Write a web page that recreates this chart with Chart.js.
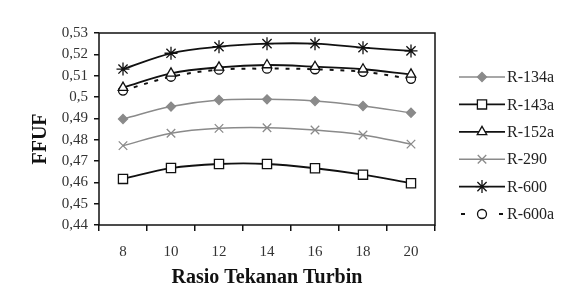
<!DOCTYPE html>
<html>
<head>
<meta charset="utf-8">
<script src="https://cdn.jsdelivr.net/npm/chart.js@4/dist/chart.umd.min.js"></script>
<style>
  html, body { margin: 0; padding: 0; background: #fff; }
  #wrap { width: 586px; height: 298px; }
</style>
</head>
<body>
<div id="wrap"><canvas id="ffuf-chart" width="586" height="298"></canvas></div>
<script>
// rasio tekanan turbin vs FFUF
const ratios = ['8', '10', '12', '14', '16', '18', '20'];

const r134a = [0.4897, 0.4955, 0.4986, 0.4989, 0.4981, 0.4958, 0.4926];
const r143a = [0.4616, 0.4667, 0.4686, 0.4686, 0.4666, 0.4636, 0.4596];
const r152a = [0.5044, 0.5111, 0.5139, 0.5150, 0.5142, 0.5130, 0.5106];
const r290  = [0.4772, 0.4830, 0.4853, 0.4856, 0.4845, 0.4822, 0.4779];
const r600  = [0.5131, 0.5205, 0.5236, 0.5250, 0.5250, 0.5231, 0.5216];
const r600a = [0.5030, 0.5095, 0.5128, 0.5133, 0.5130, 0.5118, 0.5085];

const yTicks = [0.44, 0.45, 0.46, 0.47, 0.48, 0.49, 0.5, 0.51, 0.52, 0.53];

const FONT = "'Liberation Serif', 'Times New Roman', serif";
const GRAY = '#8a8a8a';

const series = [
  { label: 'R-134a', data: r134a, color: GRAY, width: 1.5, style: 'rectRot', r: 4.5, fill: GRAY, dash: [] },
  { label: 'R-143a', data: r143a, color: '#111', width: 1.8, style: 'rect', r: 6.5, fill: '#fff', dash: [] },
  { label: 'R-152a', data: r152a, color: '#111', width: 1.8, style: 'triangle', r: 5.5, fill: '#fff', dash: [] },
  { label: 'R-290',  data: r290,  color: GRAY, width: 1.5, style: 'crossRot', r: 6, fill: GRAY, dash: [] },
  { label: 'R-600',  data: r600,  color: '#111', width: 1.8, style: 'star', r: 6.5, fill: '#111', dash: [] },
  { label: 'R-600a', data: r600a, color: '#111', width: 2, style: 'circle', r: 4.5, fill: '#fff', dash: [4, 7] },
];

// frame round the plot area
const frame = {
  id: 'frame',
  afterDatasetsDraw(chart) {
    const { ctx, chartArea: a } = chart;
    ctx.save();
    ctx.strokeStyle = '#111';
    ctx.lineWidth = 1.5;
    ctx.strokeRect(a.left, a.top, a.right - a.left, a.bottom - a.top);
    ctx.restore();
  }
};

// legend on the right: short line with the marker in the middle
const sideLegend = {
  id: 'sideLegend',
  afterDraw(chart) {
    const { ctx, chartArea: a } = chart;
    const x0 = a.right + 24, len = 46;
    ctx.save();
    series.forEach((s, i) => {
      const y = a.top + 44 + i * 27.4;
      ctx.strokeStyle = s.color;
      ctx.lineWidth = s.width;
      ctx.beginPath();
      if (s.dash.length) {
        ctx.moveTo(x0 + 2, y); ctx.lineTo(x0 + 6, y);
        ctx.moveTo(x0 + len - 6, y); ctx.lineTo(x0 + len - 2, y);
      } else {
        ctx.moveTo(x0, y); ctx.lineTo(x0 + len, y);
      }
      ctx.stroke();
      ctx.fillStyle = s.fill;
      ctx.lineWidth = 1.3;
      Chart.helpers.drawPoint(ctx, { pointStyle: s.style, radius: s.r, borderWidth: 1.3 }, x0 + len / 2, y);
      ctx.fillStyle = '#222';
      ctx.font = '16px ' + FONT;
      ctx.textBaseline = 'middle';
      ctx.fillText(s.label, x0 + len + 2, y + 1);
    });
    ctx.restore();
  }
};

new Chart(document.getElementById('ffuf-chart'), {
  type: 'line',
  data: {
    labels: ratios,
    datasets: series.map(s => ({
      label: s.label,
      data: s.data,
      borderColor: s.color,
      borderWidth: s.width,
      borderDash: s.dash,
      pointStyle: s.style,
      pointRadius: s.r,
      pointBackgroundColor: s.fill,
      pointBorderColor: s.color,
      pointBorderWidth: 1.3,
      tension: 0.35,
      fill: false,
    }))
  },
  options: {
    responsive: false,
    animation: false,
    devicePixelRatio: 1,
    layout: { padding: { top: 33, right: 151, bottom: 0, left: 0 } },
    plugins: { legend: { display: false }, tooltip: { enabled: false } },
    scales: {
      x: {
        offset: true,
        grid: { offset: true, drawOnChartArea: false, drawTicks: true, tickLength: 6, color: '#111', lineWidth: 1.5 },
        border: { display: false },
        ticks: { color: '#333', font: { family: FONT, size: 15 }, padding: 12 },
        title: { display: true, text: 'Rasio Tekanan Turbin', color: '#111', font: { family: FONT, size: 20, weight: 'bold' }, padding: { top: 0, bottom: 8 } },
        afterFit: scale => { scale.height = 73; }
      },
      y: {
        min: 0.44, max: 0.53,
        afterBuildTicks: scale => { scale.ticks = yTicks.map(v => ({ value: v })); },
        grid: { drawOnChartArea: false, drawTicks: true, tickLength: 5, color: '#111', lineWidth: 1.5 },
        border: { display: false },
        ticks: {
          color: '#333', font: { family: FONT, size: 15 }, padding: 6,
          callback: v => String(+v.toFixed(2)).replace('.', ',')
        },
        title: { display: true, text: 'FFUF\u2002\u2002', color: '#111', font: { family: FONT, size: 20, weight: 'bold' }, padding: { top: 29, bottom: 0 } },
        afterFit: scale => { scale.width = 99; }
      }
    }
  },
  plugins: [frame, sideLegend]
});
</script>
</body>
</html>
